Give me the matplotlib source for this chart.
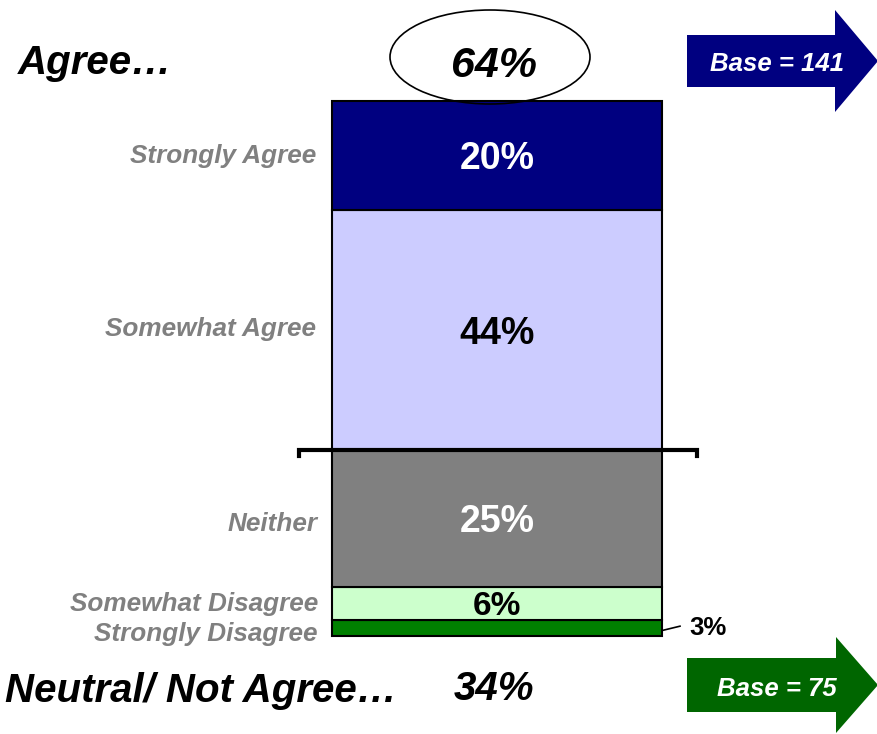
import matplotlib
matplotlib.use("Agg")
import matplotlib.pyplot as plt
from matplotlib.patches import Polygon, Ellipse
import numpy as np

plt.rcParams['font.family'] = ['Liberation Sans', 'DejaVu Sans']

# ---- data ----
categories = ["Strongly Disagree", "Somewhat Disagree", "Neither", "Somewhat Agree", "Strongly Agree"]
values = [3, 6, 25, 44, 20]
value_labels = ["3%", "6%", "25%", "44%", "20%"]
agree_total = "64%"
not_agree_total = "34%"
base_agree = "Base = 141"
base_not = "Base = 75"

colors = ["#008000", "#CCFFCC", "#808080", "#CCCCFF", "#000080"]
text_colors = ["black", "black", "white", "black", "white"]

W, H = 878, 734
fig = plt.figure(figsize=(W / 100, H / 100), dpi=100)

# bar axes: x in pixels, y in percent
px_per_pct = 5.459
y0_px = 98  # pixels from bottom where 0% sits
ax = fig.add_axes([0, 0, 1, 1])
ax.set_xlim(0, W)
ax.set_ylim(-y0_px / px_per_pct, (H - y0_px) / px_per_pct)
ax.axis('off')

bar_x = 497
bar_w = 330
bottoms = np.concatenate([[0], np.cumsum(values)[:-1]])
ax.bar([bar_x] * len(values), values, bottom=bottoms, width=bar_w,
       color=colors, edgecolor="black", linewidth=1.5, zorder=2)

for i, (cat, v, b) in enumerate(zip(categories, values, bottoms)):
    yc = b + v / 2
    if cat == "Strongly Disagree":
        ax.text(318, yc - 1.2, cat, ha='right', va='center', fontsize=18.8,
                fontweight='bold', fontstyle='italic', color='#808080')
        ax.plot([bar_x + bar_w / 2, bar_x + bar_w / 2 + 18], [yc - 0.5, yc + 0.3],
                color='black', lw=1.2)
        ax.text(689, yc - 0.1, value_labels[i], ha='left', va='center', fontsize=18.5,
                fontweight='bold', color='black')
    else:
        dy = {"Somewhat Disagree": -0.1, "Neither": -1.0, "Somewhat Agree": 0.2,
              "Strongly Agree": -0.1}[cat]
        ax.text(318 if cat in ("Neither", "Somewhat Disagree") else 316, yc + dy, cat,
                ha='right', va='center', fontsize=18.8,
                fontweight='bold', fontstyle='italic', color='#808080')
        fs = 24 if v < 10 else 27
        ax.text(bar_x, yc - 0.6, value_labels[i], ha='center', va='center', fontsize=fs,
                fontweight='bold', color=text_colors[i])

# overlay axes for decorations in pixel coords (top-left origin)
ov = fig.add_axes([0, 0, 1, 1], zorder=3)
ov.set_xlim(0, W)
ov.set_ylim(H, 0)
ov.axis('off')
ov.patch.set_alpha(0)

# bracket between agree and neutral
ov.plot([299, 299, 697, 697], [456, 450, 450, 456], color='black', lw=3,
        solid_joinstyle='miter')

# ellipse around 64%
ov.add_patch(Ellipse((490, 57), 200, 94, fill=False, edgecolor='black', lw=1.2))

ov.text(18, 63, "Agree…", ha='left', va='center', fontsize=29, fontweight='bold',
        fontstyle='italic', color='black')
ov.text(494, 66, agree_total, ha='center', va='center', fontsize=31, fontweight='bold',
        fontstyle='italic', color='black')
ov.text(5, 691, "Neutral/ Not Agree…", ha='left', va='center', fontsize=29,
        fontweight='bold', fontstyle='italic', color='black')
ov.text(494, 689, not_agree_total, ha='center', va='center', fontsize=29,
        fontweight='bold', fontstyle='italic', color='black')

def arrow(x0, xb, xt, ymid, half_body, half_head, color):
    pts = [(x0, ymid - half_body), (xb, ymid - half_body), (xb, ymid - half_head),
           (xt, ymid), (xb, ymid + half_head), (xb, ymid + half_body),
           (x0, ymid + half_body)]
    ov.add_patch(Polygon(pts, closed=True, facecolor=color, edgecolor='none'))

arrow(687, 835, 878, 61, 26, 51, "#000080")
ov.text(777, 64, base_agree, ha='center', va='center', fontsize=18.5, fontweight='bold',
        fontstyle='italic', color='white')
arrow(687, 836, 878, 685, 27, 48, "#006600")
ov.text(777, 689, base_not, ha='center', va='center', fontsize=18.5, fontweight='bold',
        fontstyle='italic', color='white')

fig.savefig("out.png", dpi=100)
